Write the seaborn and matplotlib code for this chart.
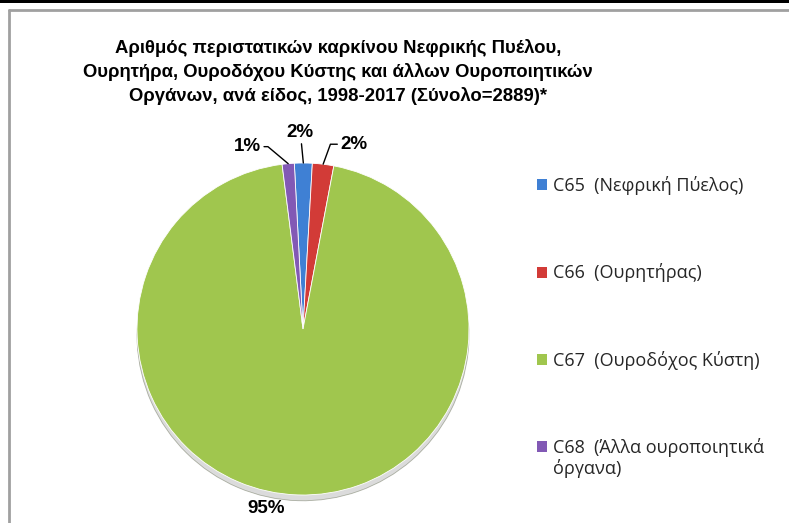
import matplotlib
matplotlib.use("Agg")
import matplotlib.pyplot as plt
import seaborn as sns
import numpy as np
from matplotlib.lines import Line2D
from matplotlib.patches import Rectangle

# data (counts per site, total = 2889)
codes = ["C65", "C66", "C67", "C68"]
labels = ["C65  (Νεφρική Πύελος)", "C66  (Ουρητήρας)", "C67  (Ουροδόχος Κύστη)",
          "C68  (Άλλα ουροποιητικά"]
label_tail = "όργανα)"
counts = [50, 60, 2745, 34]
pct_labels = ["2%", "2%", "95%", "1%"]

title = ("Αριθμός περιστατικών καρκίνου Νεφρικής Πυέλου,\n"
         "Ουρητήρα, Ουροδόχου Κύστης και άλλων Ουροποιητικών\n"
         "Οργάνων, ανά είδος, 1998-2017 (Σύνολο=2889)*")

sns.set_theme(style="white")
plt.rcParams['font.family'] = ['Open Sans', 'DejaVu Sans']
bold_font = ['Liberation Sans', 'DejaVu Sans']
colors = sns.color_palette(["#3F80D4", "#D23B37", "#A0C64E", "#8259B5"])

W, H = 789, 523
fig = plt.figure(figsize=(W / 100, H / 100), dpi=100)

# pie axes: centre (303, 329) px, radius 166 px
cx, cy, r = 303, 329, 166
ax = fig.add_axes([(cx - r) / W, (H - cy - r) / H, 2 * r / W, 2 * r / H])
wedges, _ = ax.pie(counts, colors=colors, startangle=93, counterclock=False,
                   radius=1, wedgeprops=dict(edgecolor="white", linewidth=0.6),
                   shadow=dict(ox=0.0, oy=-0.025, facecolor="#9a9a9a", alpha=0.35))
ax.set_xlim(-1, 1)
ax.set_ylim(-1, 1)
ax.set_aspect("equal")
ax.axis("off")

# percent labels with leader lines (offsets in pixels from wedge edge)
offsets = {0: (-3, 31), 1: (31, 20), 2: (-32, -14), 3: (-41, 17)}
conn = {0: "arc3", 1: "angle,angleA=0,angleB=70,rad=0", 2: None,
        3: "angle,angleA=0,angleB=140,rad=0"}
for i, w in enumerate(wedges):
    mid = np.deg2rad((w.theta1 + w.theta2) / 2)
    xy = (np.cos(mid), np.sin(mid))
    arrow = None
    if conn[i] is not None:
        arrow = dict(arrowstyle="-", color="black", lw=1, shrinkA=0, shrinkB=0,
                     connectionstyle=conn[i])
    ax.annotate(pct_labels[i], xy=xy, xytext=offsets[i], textcoords="offset pixels",
                ha="center", va="center", fontsize=13.5, fontweight="bold",
                color="black", family=bold_font, arrowprops=arrow)

fig.text(338 / W, 1 - 72 / H, title, ha="center", va="center", fontsize=13.3,
         fontweight="bold", color="black", family=bold_font, linespacing=1.4)

handles = [Rectangle((0, 0), 1, 1, facecolor=c, edgecolor="none") for c in colors]
leg = fig.legend(handles, labels, loc="upper left", bbox_to_anchor=(530 / W, 1 - 169 / H),
                 frameon=False, fontsize=13, handlelength=0.55, handleheight=0.55,
                 handletextpad=0.3, labelspacing=3.78, borderaxespad=0)

# second line of the last legend entry, under its first line
fig.canvas.draw()
last = leg.get_texts()[-1].get_window_extent()
fig.text(last.x0 / W, (last.y0 - 2) / H, label_tail, ha="left", va="top",
         fontsize=13)

# chart border and top band
fig.add_artist(Rectangle((0, 1 - 3 / H), 1, 3 / H, transform=fig.transFigure,
                         facecolor="black", edgecolor="none"))
fig.add_artist(Line2D([8.5 / W, 1], [1 - 10 / H, 1 - 10 / H], transform=fig.transFigure,
                      color="#a0a0a0", lw=2))
fig.add_artist(Line2D([8.5 / W, 8.5 / W], [0, 1 - 10 / H], transform=fig.transFigure,
                      color="#a0a0a0", lw=2))

fig.savefig("out.png", dpi=100)
